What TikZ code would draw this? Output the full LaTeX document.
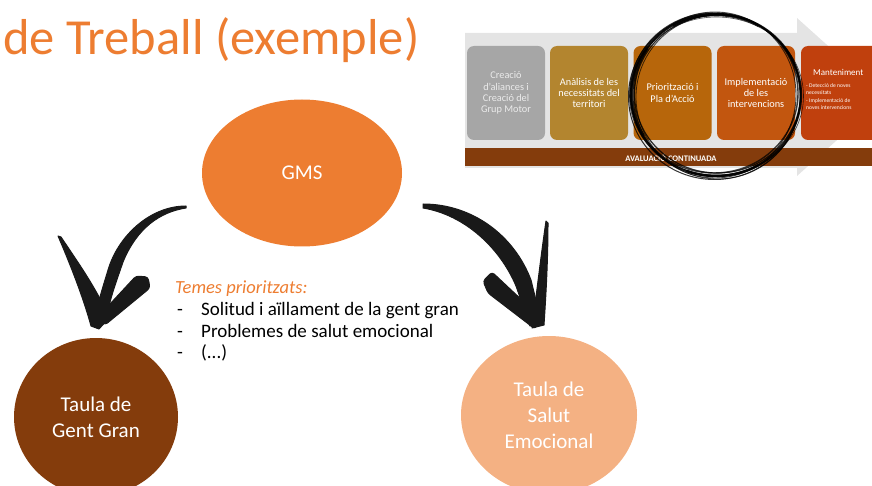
\documentclass[tikz,border=0pt]{standalone}
\usepackage{fontspec}
\setmainfont{Carlito}
\usetikzlibrary{shapes.geometric}
\definecolor{orangeT}{HTML}{ED7D31}
\definecolor{brownD}{HTML}{843C0C}
\definecolor{peach}{HTML}{F4B183}
\definecolor{grayBg}{HTML}{E4E4E4}
\definecolor{boxA}{HTML}{A6A6A6}
\definecolor{boxB}{HTML}{B3852F}
\definecolor{boxC}{HTML}{B7660B}
\definecolor{boxD}{HTML}{C2560F}
\definecolor{boxE}{HTML}{C0400D}
\tikzset{
  circ/.style={ellipse, inner sep=0pt, text=white, align=center, font=\fontsize{21}{26}\selectfont},
  stage/.style={rounded corners=7pt, inner sep=0pt, minimum width=78pt, minimum height=94pt, text=white, align=center, font=\fontsize{10.3}{11.4}\selectfont},
  brush/.style={fill=black!90, draw=black!90, line width=1pt, line join=round},
  listtxt/.style={anchor=base west, inner sep=0pt, font=\fontsize{19}{22}\selectfont},
}
\begin{document}
\begin{tikzpicture}[x=1pt,y=-1pt]
\useasboundingbox (0,0) rectangle (872,486);
\clip (0,0) rectangle (872,486);

% title
\node[anchor=base west, inner sep=0pt, text=orangeT, font=\fontsize{50.5}{55}\selectfont] (title) at (3,55) {de Treball (exemple)};

% top-right process picture
\fill[grayBg] (465,33) -- (797,33) -- (797,18) -- (885,97) -- (797,176) -- (797,168) -- (465,168) -- cycle;
\node[stage, fill=boxA, text=white!92!black] (s1) at (506,93) {Creació\\d'aliances i\\Creació del\\Grup Motor};
\node[stage, fill=boxB] (s2) at (589,93) {Anàlisis de les\\necessitats del\\territori};
\node[stage, fill=boxC] (s3) at (672.5,93) {Priorització i\\Pla d'Acció};
\node[stage, fill=boxD] (s4) at (756,93) {Implementació\\de les\\intervencions};
\node[stage, fill=boxE, minimum width=80pt] (s5) at (841,93) {};
\node[anchor=base west, inner sep=0pt, text=white, font=\fontsize{9}{10}\selectfont] (m0) at (813,76) {Manteniment};
\node[anchor=north west, inner sep=0pt, text=white, align=left, font=\fontsize{5.6}{7}\selectfont] (m1) at (806,83) {- Detecció de noves\\necessitats\\[1.5pt]- Implementació de\\noves intervencions};
\fill[brownD] (465,148) rectangle (875,166);
\node[inner sep=0pt, text=white, font=\bfseries\fontsize{8.5}{9}\selectfont] (aval) at (671,157.5) {AVALUACIÓ CONTINUADA};

% hand drawn circle
\foreach \dx/\dy/\rx/\ry/\w/\op in {0/0/85/81/2.2/0.9, 1.5/-1/83/79/1.2/0.8, -1.5/1.5/86/83/1.0/0.8, 2/2/82/82/0.8/0.7, -2/-2/84/80/1.4/0.75, 0.5/1/87/79/0.6/0.7, -1/0/81/83/0.9/0.7}{
  \draw[black, line width=\w pt, opacity=\op] (716+\dx,95+\dy) ellipse [x radius=\rx, y radius=\ry];
}
\draw[black, line width=3pt, opacity=0.85, line cap=round] plot[domain=150:215, samples=30, variable=\t] ({716+84*cos(\t)},{95+81*sin(\t)});
\draw[black, line width=2.5pt, opacity=0.85, line cap=round] plot[domain=240:300, samples=30, variable=\t] ({716+85*cos(\t)},{95+80*sin(\t)});
\draw[black, line width=2.5pt, opacity=0.85, line cap=round] plot[domain=60:110, samples=30, variable=\t] ({716+85*cos(\t)},{95+81*sin(\t)});

% main circles
\node[circ, fill=orangeT, minimum width=200pt, minimum height=147pt] (gms) at (302,173) {GMS};
\node[circ, fill=brownD, minimum width=164pt, minimum height=158pt] (gg) at (96,417) {Taula de\\Gent Gran};
\node[circ, fill=peach, minimum width=176pt, minimum height=158pt] (se) at (549,415) {Taula de\\Salut\\Emocional};

% text block
\node[anchor=base west, inner sep=0pt, text=orangeT, font=\itshape\fontsize{18.5}{22}\selectfont] (temes) at (175,293) {Temes prioritzats:};
\node[listtxt] (d1) at (177,315) {-};
\node[listtxt] (t1) at (201,315) {Solitud i aïllament de la gent gran};
\node[listtxt] (d2) at (177,337) {-};
\node[listtxt] (t2) at (201,337) {Problemes de salut emocional};
\node[listtxt] (d3) at (177,358) {-};
\node[listtxt] (t3) at (201,358) {(...)};

% left brush arrow
\fill[brush] (186,206) .. controls (150,206) and (118,236) .. (108,270)
  .. controls (102,290) and (97,305) .. (94,324)
  -- (106,322) .. controls (109,300) and (117,280) .. (123,262)
  .. controls (137,228) and (160,212) .. (186,208) -- cycle;
\fill[brush] (58,236) -- (61,237) .. controls (82,268) and (99,293) .. (109,318)
  -- (99,329) -- (91,326) .. controls (84,300) and (71,266) .. (58,236) -- cycle;
\fill[brush, rounded corners=3pt] (136,276) -- (148,277) -- (150,288) -- (105,325) -- (97,318) -- cycle;

% right brush arrow
\fill[brush] (423,204) .. controls (472,204) and (514,235) .. (531,280)
  -- (542,325) -- (530,326) -- (516,286)
  .. controls (500,248) and (465,215) .. (423,208) -- cycle;
\fill[brush] (546,221) -- (548,223) .. controls (548,260) and (546,295) .. (544,325)
  -- (532,328) .. controls (537,290) and (541,255) .. (546,221) -- cycle;
\fill[brush, rounded corners=3pt] (483,281) -- (492,272) -- (541,318) -- (535,329) -- (488,293) -- cycle;
\end{tikzpicture}
\end{document}
